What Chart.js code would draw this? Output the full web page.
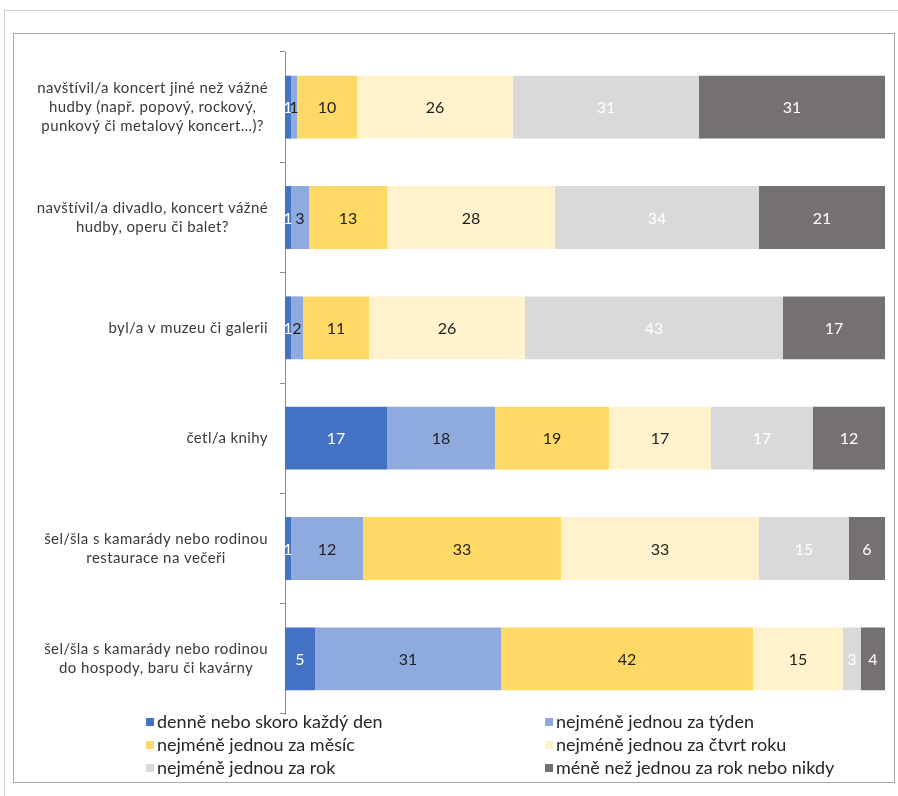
<!DOCTYPE html>
<html>
<head>
<meta charset="utf-8">
<script src="https://cdn.jsdelivr.net/npm/chart.js@4/dist/chart.umd.min.js"></script>
<style>
    html, body { margin: 0; padding: 0; background: #fff; }
    #outer { position: absolute; left: 4px; top: 10px; right: 0; bottom: 0; border-left: 1px solid #d0d0d0; border-top: 1px solid #d0d0d0; }
    #frame { position: absolute; left: 13px; top: 33px; width: 880px; height: 748px; border: 1px solid #a6a6a6; background: #fff; }
    canvas { display: block; }
</style>
</head>
<body>
<div id="outer"></div>
<div id="frame"><canvas id="chart" width="880" height="748" style="width:880px;height:748px"></canvas></div>
<script>
const categories = [
    ['navštívil/a koncert jiné než vážné', 'hudby (např. popový, rockový,', 'punkový či metalový koncert…)?'],
    ['navštívil/a divadlo, koncert vážné', 'hudby, operu či balet?'],
    ['byl/a v muzeu či galerii'],
    ['četl/a knihy'],
    ['šel/šla s kamarády nebo rodinou', 'restaurace na večeři'],
    ['šel/šla s kamarády nebo rodinou', 'do hospody, baru či kavárny']
];
const seriesNames = [
    'denně nebo skoro každý den',
    'nejméně jednou za týden',
    'nejméně jednou za měsíc',
    'nejméně jednou za čtvrt roku',
    'nejméně jednou za rok',
    'méně než jednou za rok nebo nikdy'
];
const daily     = [1, 1, 1, 17, 1, 5];
const weekly    = [1, 3, 2, 18, 12, 31];
const monthly   = [10, 13, 11, 19, 33, 42];
const quarterly = [26, 28, 26, 17, 33, 15];
const yearly    = [31, 34, 43, 17, 15, 3];
const never     = [31, 21, 17, 12, 6, 4];

const colors = ['#4472C4', '#8FAADC', '#FFD966', '#FFF2CC', '#D9D9D9', '#767171'];
const labelColors = ['#ffffff', '#1f1f1f', '#1f1f1f', '#1f1f1f', '#ffffff', '#ffffff'];
const FONT = 'Lato, "Open Sans", sans-serif';

// value labels in the middle of every segment
const valueLabels = {
    id: 'valueLabels',
    afterDatasetsDraw(chart) {
        const ctx = chart.ctx;
        ctx.save();
        ctx.font = '16px ' + FONT;
        ctx.textAlign = 'center';
        ctx.textBaseline = 'middle';
        chart.data.datasets.forEach(function(ds, di) {
            ctx.fillStyle = labelColors[di];
            chart.getDatasetMeta(di).data.forEach(function(bar, i) {
                const p = bar.getCenterPoint();
                ctx.fillText(ds.data[i], p.x, p.y + 1);
            });
        });
        ctx.restore();
    }
};

// wrapped category labels: block right aligned, lines centred (like Excel)
const categoryLabels = {
    id: 'categoryLabels',
    afterDraw(chart) {
        const ctx = chart.ctx, y = chart.scales.y;
        ctx.save();
        ctx.font = '15px ' + FONT;
        ctx.letterSpacing = '0.4px';
        ctx.fillStyle = '#3a3a3a';
        ctx.textAlign = 'center';
        ctx.textBaseline = 'middle';
        const lineH = 19, right = y.right - 17;
        categories.forEach(function(lines, i) {
            const cy = y.getPixelForValue(i);
            const w = Math.max(...lines.map(l => ctx.measureText(l).width));
            lines.forEach(function(l, j) {
                ctx.fillText(l, right - w / 2, cy + (j - (lines.length - 1) / 2) * lineH);
            });
        });
        ctx.restore();
    }
};

// two-column legend under the plot
const gridLegend = {
    id: 'gridLegend',
    afterDraw(chart) {
        const ctx = chart.ctx;
        const colX = [132, 531], top = chart.chartArea.bottom + 8, rowH = 23;
        ctx.save();
        ctx.font = '18px ' + FONT;
        ctx.textBaseline = 'middle';
        ctx.textAlign = 'left';
        chart.data.datasets.forEach(function(ds, i) {
            const x = colX[i % 2], y = top + Math.floor(i / 2) * rowH;
            ctx.fillStyle = ds.backgroundColor;
            ctx.fillRect(x, y - 4, 8, 8);
            ctx.fillStyle = '#262626';
            ctx.fillText(ds.label, x + 11, y);
        });
        ctx.restore();
    }
};

const allSeries = [daily, weekly, monthly, quarterly, yearly, never];

new Chart(document.getElementById('chart').getContext('2d'), {
    type: 'bar',
    data: {
        labels: categories,
        datasets: allSeries.map(function(values, i) {
            return {
                label: seriesNames[i],
                data: values,
                backgroundColor: colors[i],
                borderWidth: 0,
                barPercentage: 0.57,
                categoryPercentage: 1
            };
        })
    },
    options: {
        indexAxis: 'y',
        responsive: false,
        animation: false,
        devicePixelRatio: 1,
        layout: {
            padding: { top: 18, right: 9, bottom: 68, left: 0 }
        },
        plugins: {
            legend: { display: false },
            tooltip: { enabled: false }
        },
        scales: {
            x: {
                display: false,
                stacked: true,
                min: 0,
                max: 100
            },
            y: {
                stacked: true,
                offset: true,
                grid: {
                    offset: true,
                    drawOnChartArea: false,
                    drawTicks: true,
                    tickLength: 5,
                    color: '#8c8c8c'
                },
                border: { display: true, color: '#8c8c8c' },
                ticks: { display: false },
                afterFit: function(scale) {
                    scale.width = 271;
                }
            }
        }
    },
    plugins: [valueLabels, categoryLabels, gridLegend]
});
</script>
</body>
</html>
